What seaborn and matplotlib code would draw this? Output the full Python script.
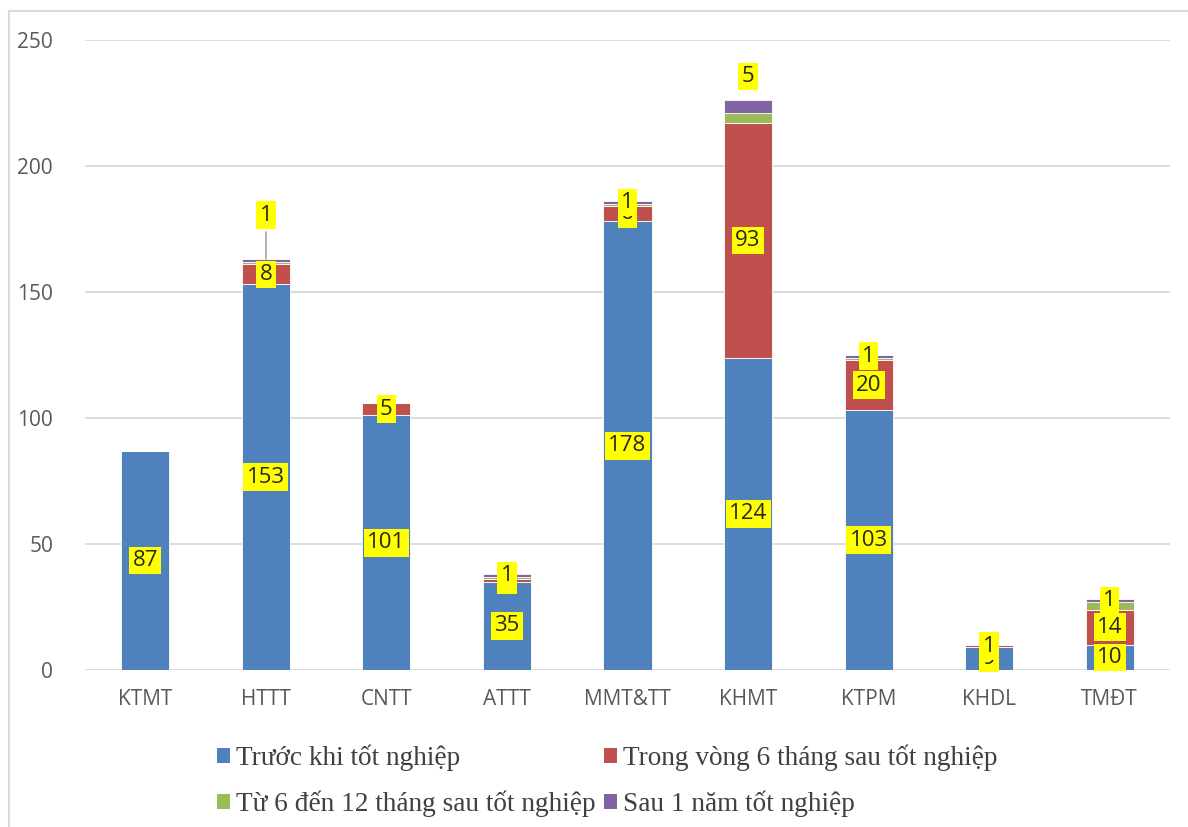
import matplotlib
matplotlib.use("Agg")
import matplotlib.pyplot as plt
from matplotlib.patches import Patch, Rectangle
import numpy as np
import pandas as pd
import seaborn as sns

# Majors (x axis)
categories = ["KTMT", "HTTT", "CNTT", "ATTT", "MMT&TT", "KHMT", "KTPM", "KHDL", "TMĐT"]

# Number of graduates by time of getting a job
before_grad = [87, 153, 101, 35, 178, 124, 103, 9, 10]
within_6m   = [0, 8, 5, 1, 6, 93, 20, 1, 14]
from_6_12m  = [0, 1, 0, 1, 1, 4, 1, 0, 3]
after_1y    = [0, 1, 0, 1, 1, 5, 1, 0, 1]

series_names = [
    "Trước khi tốt nghiệp",
    "Trong vòng 6 tháng sau tốt nghiệp",
    "Từ 6 đến 12 tháng sau tốt nghiệp",
    "Sau 1 năm tốt nghiệp",
]
series_values = [before_grad, within_6m, from_6_12m, after_1y]
series_colors = ["#4F81BD", "#C0504D", "#9BBB59", "#8064A2"]

# Which segments carry a data label (True = labelled), and label lift in data units
show_label = [
    [True] * 9,
    [False, True, True, True, True, True, True, True, True],
    [False] * 9,
    [False, True, False, True, True, True, True, False, True],
]
label_lift = [
    [0] * 9,
    [0] * 9,
    [0] * 9,
    [0, 18, 0, 0, 0, 12, 0, 0, 0],
]

y_ticks = [0, 50, 100, 150, 200, 250]

sns.set_theme(style="white")
plt.rcParams["font.family"] = ["Open Sans", "DejaVu Sans"]

fig = plt.figure(figsize=(11.88, 8.27), dpi=100)
ax = fig.add_axes([85 / 1188, 1 - 670 / 827, (1170 - 85) / 1188, (670 - 40) / 827])

df = pd.DataFrame({"major": categories})
bottom = np.zeros(len(categories))
for name, vals, col in zip(series_names, series_values, series_colors):
    df["value"] = vals
    sns.barplot(data=df, x="major", y="value", bottom=bottom.copy(), color=col,
                width=0.4, errorbar=None, edgecolor="white", linewidth=0.6,
                saturation=1, ax=ax, zorder=3)
    bottom = bottom + np.array(vals)

# Data labels with yellow background, drawn series by series
bottom = np.zeros(len(categories))
for s, vals in enumerate(series_values):
    for i, v in enumerate(vals):
        if show_label[s][i]:
            y = bottom[i] + v / 2 + label_lift[s][i]
            ax.text(i, y, f"{v}", ha="center", va="center", fontsize=16,
                    color="#262626", zorder=5,
                    bbox=dict(boxstyle="square,pad=0.15", fc="#FFFF00", ec="none"))
            if label_lift[s][i] > 15:
                top = bottom[i] + v
                ax.plot([i, i], [top, y - 6.5], color="#A6A6A6", lw=1.2, zorder=4)
    bottom = bottom + np.array(vals)

ax.set_xlim(-0.5, len(categories) - 0.5)
ax.set_ylim(0, 250)
ax.set_yticks(y_ticks)
ax.set_xlabel("")
ax.set_ylabel("")
ax.yaxis.grid(True, color="#D9D9D9", lw=1.3, zorder=0)
ax.set_axisbelow(True)
for sp in ax.spines.values():
    sp.set_visible(False)
ax.tick_params(axis="y", length=0, pad=23, labelsize=15, labelcolor="#595959")
ax.tick_params(axis="x", length=0, pad=14, labelsize=15, labelcolor="#595959")

# Legend laid out row by row: matplotlib fills columns first, so reorder entries
order = [0, 2, 1, 3]
handles = [Patch(facecolor=series_colors[k], edgecolor="none") for k in order]
labels = [series_names[k] for k in order]
fig.legend(handles, labels, loc="center", ncol=2,
           bbox_to_anchor=(607 / 1188, 1 - 781 / 827), frameon=False,
           prop={"family": "Liberation Serif", "size": 19.6},
           labelcolor="#404040", handlelength=0.5, handleheight=0.5,
           handletextpad=0.2, columnspacing=0.3, labelspacing=0.72)

# Chart area border
fig.patches.append(Rectangle((9 / 1188, -0.05), 1.1, 1 - 11 / 827 + 0.05,
                             transform=fig.transFigure, fill=False,
                             ec="#D9D9D9", lw=1.5))

fig.savefig("out.png", dpi=100)
